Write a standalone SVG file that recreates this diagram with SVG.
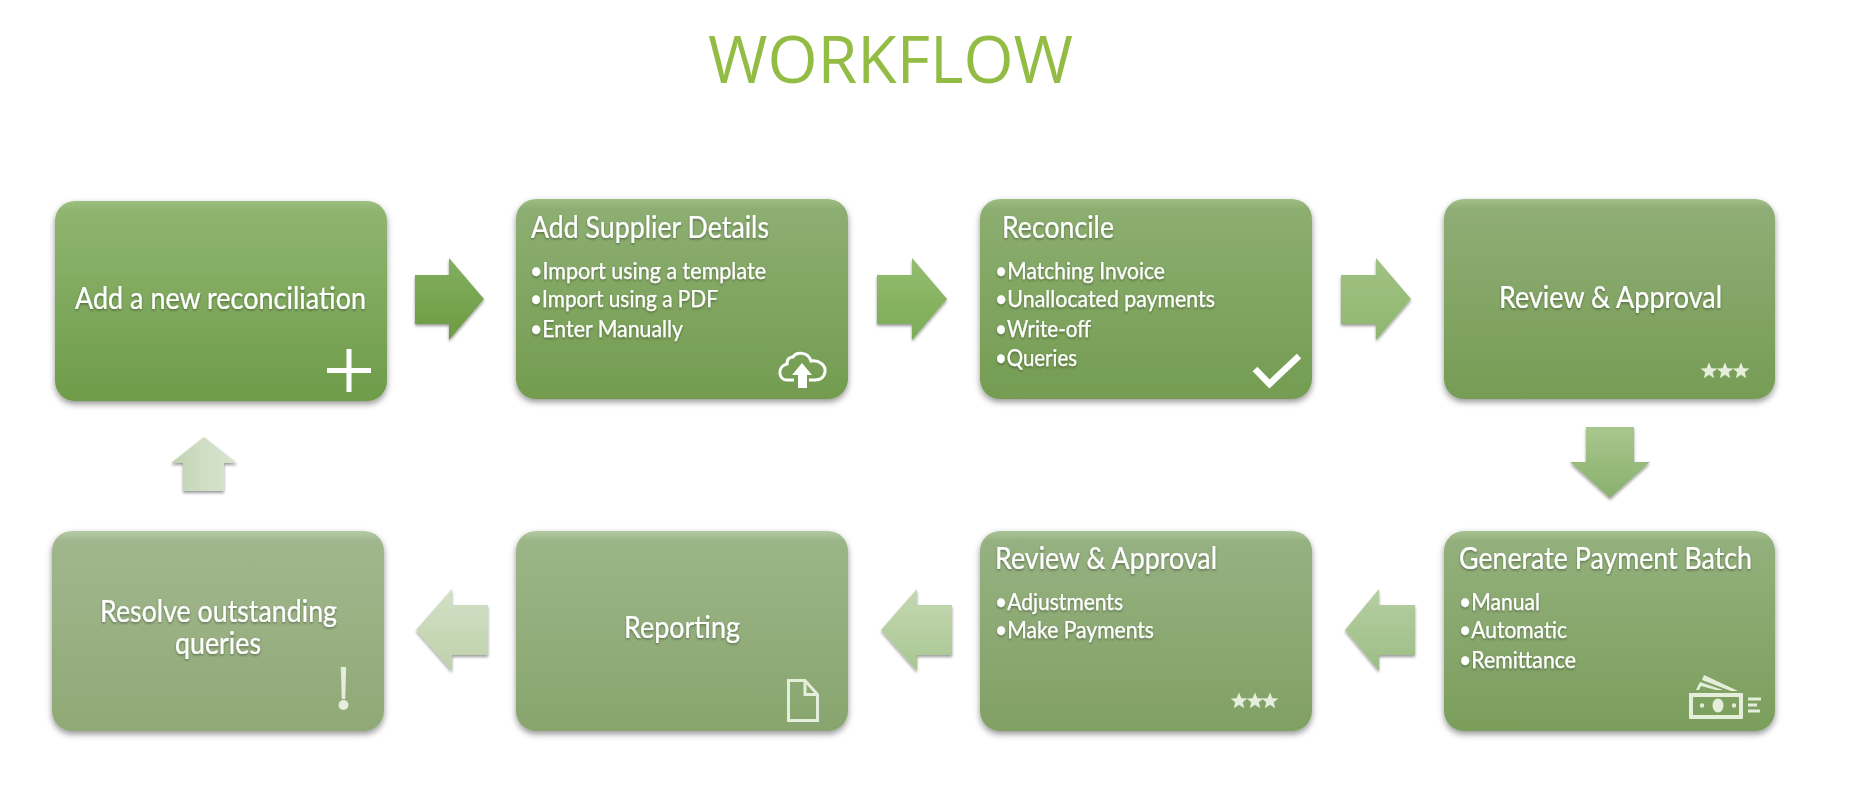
<svg xmlns="http://www.w3.org/2000/svg" width="1850" height="790" viewBox="0 0 1850 790">
<style>
text{font-family:"Lato","Open Sans","Liberation Sans",sans-serif;fill:#fff}
.title{font-family:"Open Sans","Liberation Sans",sans-serif;font-size:66px;fill:#92bc44}
.h{font-size:31px;font-weight:400;stroke:#fff;stroke-width:.2;filter:url(#ts)}
.b{font-size:22.5px;font-weight:400;stroke:#fff;stroke-width:.25;filter:url(#ts)}
.box{filter:url(#sh)}
.arrow{filter:url(#sa)}
.ic{fill:#e4eeda;stroke:none}
.ol{fill:none;stroke:#e4eeda}
.w{fill:#fff;stroke:none}
.ow{fill:none;stroke:#fff}
</style>
<defs>
<filter id="sh" x="-10%" y="-10%" width="120%" height="120%"><feDropShadow dx="0" dy="3" stdDeviation="3" flood-color="#000" flood-opacity=".42"/></filter>
<filter id="sa" x="-20%" y="-20%" width="140%" height="140%"><feDropShadow dx="0" dy="2" stdDeviation="1.500" flood-color="#000" flood-opacity=".4"/></filter>
<filter id="ts" x="-5%" y="-30%" width="110%" height="170%"><feDropShadow dx="0" dy="1.500" stdDeviation="1.200" flood-color="#000" flood-opacity=".35"/></filter>
<linearGradient id="g1" x1="0" y1="0" x2="0" y2="1"><stop offset="0" stop-color="#9cc07f"/><stop offset=".05" stop-color="#8fb46f"/><stop offset="1" stop-color="#6e9c49"/></linearGradient>
<linearGradient id="g2" x1="0" y1="0" x2="0" y2="1"><stop offset="0" stop-color="#9dbf83"/><stop offset=".05" stop-color="#8dae72"/><stop offset="1" stop-color="#739c4f"/></linearGradient>
<linearGradient id="g3" x1="0" y1="0" x2="0" y2="1"><stop offset="0" stop-color="#9dbf83"/><stop offset=".05" stop-color="#8cae70"/><stop offset="1" stop-color="#749c51"/></linearGradient>
<linearGradient id="g4" x1="0" y1="0" x2="0" y2="1"><stop offset="0" stop-color="#a3c08c"/><stop offset=".05" stop-color="#8fad75"/><stop offset="1" stop-color="#769c55"/></linearGradient>
<linearGradient id="g5" x1="0" y1="0" x2="0" y2="1"><stop offset="0" stop-color="#a6c291"/><stop offset=".05" stop-color="#93b07c"/><stop offset="1" stop-color="#7b9e5c"/></linearGradient>
<linearGradient id="g6" x1="0" y1="0" x2="0" y2="1"><stop offset="0" stop-color="#a9c497"/><stop offset=".05" stop-color="#96b181"/><stop offset="1" stop-color="#81a064"/></linearGradient>
<linearGradient id="g7" x1="0" y1="0" x2="0" y2="1"><stop offset="0" stop-color="#b0c9a0"/><stop offset=".05" stop-color="#9cb587"/><stop offset="1" stop-color="#88a56e"/></linearGradient>
<linearGradient id="g8" x1="0" y1="0" x2="0" y2="1"><stop offset="0" stop-color="#b5cba6"/><stop offset=".05" stop-color="#a0b78d"/><stop offset="1" stop-color="#90a976"/></linearGradient>
<linearGradient id="a1" x1="0" y1="0" x2="0" y2="1"><stop offset="0" stop-color="#84af5f"/><stop offset="1" stop-color="#6c9b42"/></linearGradient>
<linearGradient id="a2" x1="0" y1="0" x2="0" y2="1"><stop offset="0" stop-color="#93bd6f"/><stop offset="1" stop-color="#7dab56"/></linearGradient>
<linearGradient id="a3" x1="0" y1="0" x2="0" y2="1"><stop offset="0" stop-color="#a0c182"/><stop offset="1" stop-color="#8fb771"/></linearGradient>
<linearGradient id="a4" x1="0" y1="0" x2="0" y2="1"><stop offset="0" stop-color="#a8c78e"/><stop offset="1" stop-color="#89b06c"/></linearGradient>
<linearGradient id="a5" x1="0" y1="0" x2="0" y2="1"><stop offset="0" stop-color="#b5cfa2"/><stop offset="1" stop-color="#9cbd84"/></linearGradient>
<linearGradient id="a6" x1="0" y1="0" x2="0" y2="1"><stop offset="0" stop-color="#c4d8b2"/><stop offset="1" stop-color="#a9c692"/></linearGradient>
<linearGradient id="a7" x1="0" y1="0" x2="0" y2="1"><stop offset="0" stop-color="#d3e0c6"/><stop offset="1" stop-color="#bdd1aa"/></linearGradient>
<linearGradient id="a8" x1="0" y1="0" x2="1" y2="0"><stop offset="0" stop-color="#bfd2b0"/><stop offset=".5" stop-color="#d0dec5"/><stop offset="1" stop-color="#d9e4d0"/></linearGradient>
<polygon id="star" points="0,-8.500 2.400,-2.800 8.400,-2.600 3.700,1.200 5.200,7.200 0,3.800 -5.200,7.200 -3.700,1.200 -8.400,-2.600 -2.400,-2.800"/>
</defs>
<rect width="1850" height="790" fill="#fff"/>
<text id="title" class="title" x="708" y="83" textLength="365" lengthAdjust="spacingAndGlyphs">WORKFLOW</text>
<g id="connectors">
<polygon class="arrow" fill="url(#a1)" points="415,275 449,275 449,258 484,299 449,340 449,324 415,324"/>
<polygon class="arrow" fill="url(#a2)" points="877,275 912,275 912,258 947,299 912,340 912,324 877,324"/>
<polygon class="arrow" fill="url(#a3)" points="1341,275 1376,275 1376,258 1411,299 1376,340 1376,324 1341,324"/>
<polygon class="arrow" fill="url(#a4)" points="1586,427 1634,427 1634,462 1650,462 1610,498 1570,462 1586,462"/>
<polygon class="arrow" fill="url(#a5)" points="1415,605 1379,605 1379,589 1345,630 1379,671 1379,655 1415,655"/>
<polygon class="arrow" fill="url(#a6)" points="952,605 917,605 917,589 881,630 917,671 917,655 952,655"/>
<polygon class="arrow" fill="url(#a7)" points="488,605 452,605 452,589 416,630 452,671 452,655 488,655"/>
<polygon class="arrow" fill="url(#a8)" points="183,491 224,491 224,463 237,463 204,437 171,463 183,463"/>
</g>
<g id="node-add-reconciliation">
<rect class="box" x="55" y="201" width="332" height="200" rx="20" fill="url(#g1)"/>
<text class="h" x="75" y="309" textLength="291" lengthAdjust="spacingAndGlyphs">Add a new reconciliation</text>
<path class="w" d="M346.500 349h5v19h19.500v5h-19.500v19h-5v-19h-19.500v-5h19.500z"/>
</g>
<g id="node-supplier-details">
<rect class="box" x="516" y="199" width="332" height="200" rx="20" fill="url(#g2)"/>
<text class="h" x="531" y="238" textLength="238" lengthAdjust="spacingAndGlyphs">Add Supplier Details</text>
<text class="b" x="530" y="279" textLength="236" lengthAdjust="spacingAndGlyphs">•Import using a template</text>
<text class="b" x="530" y="307" textLength="188" lengthAdjust="spacingAndGlyphs">•Import using a PDF</text>
<text class="b" x="530" y="337" textLength="153" lengthAdjust="spacingAndGlyphs">•Enter Manually</text>
<path class="ow" stroke-width="3" d="M794 380H787C778 380 777 366 787 364C787 358 791 357 793 357C796 352 808 351 811 361C819 360 826 365 825 372C824 378 820 380 815 380H809"/>
<polygon class="w" points="802,363 812,375 807,375 807,388 798,388 798,375 792,375"/>
</g>
<g id="node-reconcile">
<rect class="box" x="980" y="199" width="332" height="200" rx="20" fill="url(#g3)"/>
<text class="h" x="1002" y="238" textLength="112" lengthAdjust="spacingAndGlyphs">Reconcile</text>
<text class="b" x="995" y="279" textLength="170" lengthAdjust="spacingAndGlyphs">•Matching Invoice</text>
<text class="b" x="995" y="307" textLength="220" lengthAdjust="spacingAndGlyphs">•Unallocated payments</text>
<text class="b" x="995" y="337" textLength="96" lengthAdjust="spacingAndGlyphs">•Write-off</text>
<text class="b" x="995" y="366" textLength="82" lengthAdjust="spacingAndGlyphs">•Queries</text>
<polyline class="ow" stroke-width="6.500" points="1255,369 1269.500,384 1299,356"/>
</g>
<g id="node-review-approval-1">
<rect class="box" x="1444" y="199" width="331" height="200" rx="20" fill="url(#g4)"/>
<text class="h" x="1499" y="308" textLength="223" lengthAdjust="spacingAndGlyphs">Review &amp; Approval</text>
<use href="#star" class="ic" x="1709" y="371"/><use href="#star" class="ic" x="1725" y="371"/><use href="#star" class="ic" x="1741" y="371"/>
</g>
<g id="node-generate-payment">
<rect class="box" x="1444" y="531" width="331" height="200" rx="20" fill="url(#g5)"/>
<text class="h" x="1459" y="569" textLength="293" lengthAdjust="spacingAndGlyphs">Generate Payment Batch</text>
<text class="b" x="1459" y="610" textLength="81" lengthAdjust="spacingAndGlyphs">•Manual</text>
<text class="b" x="1459" y="638" textLength="108" lengthAdjust="spacingAndGlyphs">•Automatic</text>
<text class="b" x="1459" y="668" textLength="117" lengthAdjust="spacingAndGlyphs">•Remittance</text>
<rect class="ol" x="1691" y="695" width="50" height="22" stroke-width="4"/>
<ellipse class="ic" cx="1718" cy="705.500" rx="5.500" ry="7"/>
<circle class="ic" cx="1702" cy="705.500" r="2.200"/><circle class="ic" cx="1734" cy="705.500" r="2.200"/>
<path class="ol" stroke-width="3" d="M1748 699H1761M1748 705H1757M1748 711H1760"/>
<path class="ic" d="M1696 690L1700 682L1723 690H1716L1701 686L1699 690zM1702 680L1704 675L1738 691H1731z"/>
</g>
<g id="node-review-approval-2">
<rect class="box" x="980" y="531" width="332" height="200" rx="20" fill="url(#g6)"/>
<text class="h" x="995" y="569" textLength="222" lengthAdjust="spacingAndGlyphs">Review &amp; Approval</text>
<text class="b" x="995" y="610" textLength="128" lengthAdjust="spacingAndGlyphs">•Adjustments</text>
<text class="b" x="995" y="638" textLength="159" lengthAdjust="spacingAndGlyphs">•Make Payments</text>
<use href="#star" class="ic" x="1239" y="701"/><use href="#star" class="ic" x="1255" y="701"/><use href="#star" class="ic" x="1270" y="701"/>
</g>
<g id="node-reporting">
<rect class="box" x="516" y="531" width="332" height="200" rx="20" fill="url(#g7)"/>
<text class="h" x="624" y="638" textLength="116" lengthAdjust="spacingAndGlyphs">Reporting</text>
<path class="ol" stroke-width="3" d="M788.500 680.500H805L817.500 694.500V720.500H788.500zM805 680.500V694.500H817.500"/>
</g>
<g id="node-resolve-queries">
<rect class="box" x="52" y="531" width="332" height="200" rx="20" fill="url(#g8)"/>
<text class="h"><tspan x="100" y="622" textLength="237" lengthAdjust="spacingAndGlyphs">Resolve outstanding</tspan><tspan x="175" y="654" textLength="86" lengthAdjust="spacingAndGlyphs">queries</tspan></text>
<path class="ic" d="M340.800 667h5.400l-1 32h-3.400z"/>
<circle class="ic" cx="343.500" cy="705" r="5"/>
</g>
</svg>
